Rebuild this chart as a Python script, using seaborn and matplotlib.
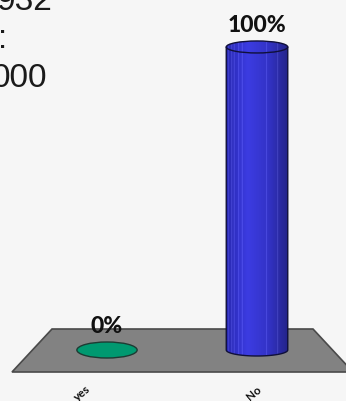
import numpy as np
import pandas as pd
import matplotlib
matplotlib.use("Agg")
import matplotlib.pyplot as plt
from matplotlib.patches import Ellipse, Polygon
from matplotlib.colors import LinearSegmentedColormap
import seaborn as sns

# Survey answers (percent of respondents)
categories = ["yes", "No"]
values = [0, 100]
bar_colors = ["#009970", "#3333cc"]
header_lines = ["932", ":", "000"]

df = pd.DataFrame({"answer": categories, "share": values})

sns.set_theme(style="white")
plt.rcParams["font.family"] = ["Lato", "DejaVu Sans"]

W, H = 346, 401
fig = plt.figure(figsize=(W / 100, H / 100), dpi=100)
fig.patch.set_facecolor("#f6f6f6")
ax = fig.add_axes([0, 0, 1, 1])
ax.set_facecolor("#f6f6f6")

sns.barplot(data=df, x="answer", y="share", hue="answer", palette=bar_colors,
            width=0.41, legend=False, ax=ax, zorder=3)

# axis geometry: one category step = 150 px, 100 % = 303 px
XLIM = (-0.7133, 1.5933)
YLIM = (-16.83, 115.5)
px_per_unit_y = H / (YLIM[1] - YLIM[0])
px_per_unit_x = W / (XLIM[1] - XLIM[0])

# grey floor the columns stand on (axes-fraction coordinates)
floor_px = [(12, 372), (52, 329), (313, 329), (353, 372)]
floor = Polygon([(x / W, 1 - y / H) for x, y in floor_px], closed=True,
                transform=ax.transAxes, facecolor="#828282",
                edgecolor="#4a4a4a", lw=1.2, zorder=1, clip_on=False)
ax.add_patch(floor)

# shading for the cylinders: darker edges, bright stripe left of centre
shade = LinearSegmentedColormap.from_list(
    "cyl", [(0.0, "#2828b0"), (0.35, "#3c3ce2"), (0.7, "#3232c4"), (1.0, "#24248a")])
ncol = 240
strip = shade(np.linspace(0, 1, ncol))[None, :, :3].copy()
# thin highlight lines along the column
for f in [0.04, 0.09, 0.13, 0.20, 0.26, 0.65, 0.83]:
    j = int(f * ncol)
    strip[0, j:j + 2] = np.clip(strip[0, j:j + 2] + 0.18, 0, 1)

cap_px = 12          # height of the elliptical caps in pixels
cap_h = cap_px / px_per_unit_y

for bar, v, col in zip(ax.patches, values, bar_colors):
    x0 = bar.get_x()
    w = bar.get_width()
    cx = x0 + w / 2
    top = bar.get_height()
    bar.set_facecolor("none")
    bar.set_edgecolor("none")
    if top <= 0:
        # an empty answer shows only as a flat disc on the floor
        disc_h = 16 / px_per_unit_y
        ax.add_patch(Ellipse((cx, 0), w * 0.98, disc_h, facecolor=col,
                             edgecolor="#1d3b33", lw=1.0, zorder=4))
        continue
    th = np.linspace(np.pi, 2 * np.pi, 60)
    body = [(x0, top)] + list(zip(cx + w / 2 * np.cos(th), cap_h / 2 * np.sin(th))) + [(x0 + w, top)]
    body_patch = Polygon(body, closed=True, facecolor="none",
                         edgecolor="#10103a", lw=1.0, zorder=5)
    ax.add_patch(body_patch)
    im = ax.imshow(strip, extent=[x0, x0 + w, -cap_h, top], aspect="auto",
                   interpolation="bilinear", zorder=4)
    im.set_clip_path(body_patch)
    cap = Ellipse((cx, top), w, cap_h, facecolor="none", edgecolor="#10103a",
                  lw=1.0, zorder=7)
    ax.add_patch(cap)
    im2 = ax.imshow(strip, extent=[x0, x0 + w, top - cap_h, top + cap_h],
                    aspect="auto", interpolation="bilinear", zorder=6)
    im2.set_clip_path(cap)

# value labels above each column
for i, v in enumerate(values):
    half = (16 if v <= 0 else cap_px) / 2
    ax.annotate(f"{v:.0f}%", xy=(i, v), xytext=(0, (half + 9) * 0.72),
                textcoords="offset points", ha="center", va="baseline",
                fontsize=16.5, fontweight="black", color="#111111", zorder=8)

# category names under the floor
label_shift_px = [-25, -3]
for i, (c, dx) in enumerate(zip(categories, label_shift_px)):
    ax.text(i + dx / px_per_unit_x, -14.3, c, rotation=40, ha="center", va="center",
            fontsize=8.5, fontweight="bold", color="#111111", zorder=8)

ax.set_xlim(*XLIM)
ax.set_ylim(*YLIM)
ax.set_axis_off()

# heading text running off the left edge
for txt, (xr, yb) in zip(header_lines, [(52, 10), (7, 48), (47, 87)]):
    fig.text(xr / W, 1 - yb / H, txt, ha="right", va="baseline",
             fontsize=24, family=["Liberation Sans", "DejaVu Sans"], color="#1a1a1a")

fig.savefig("out.png", dpi=100, facecolor=fig.get_facecolor())
